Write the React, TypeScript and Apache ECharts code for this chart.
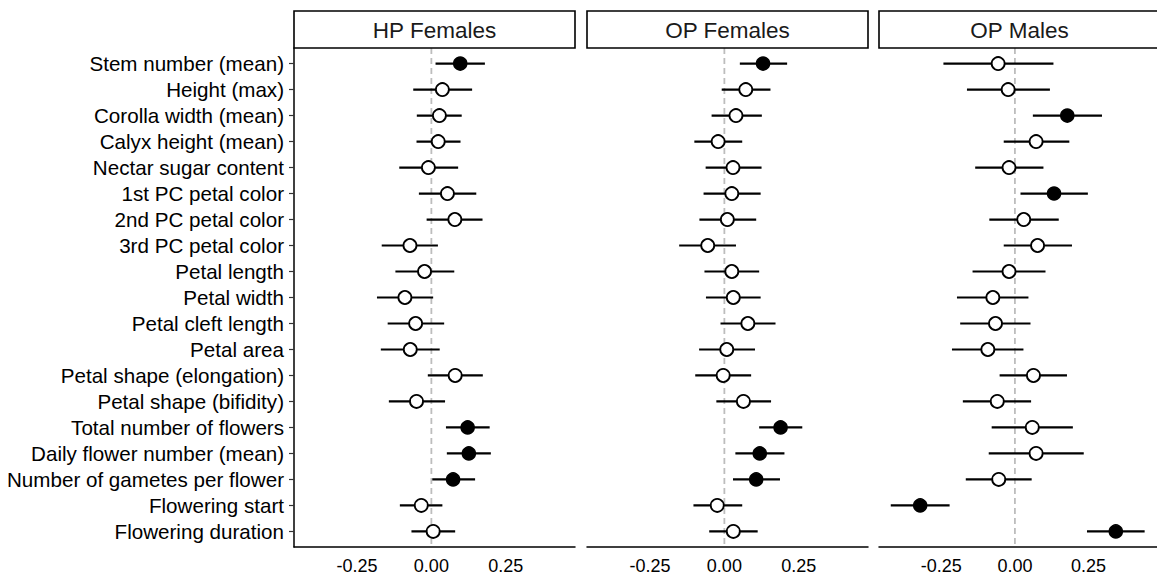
import React, { useEffect, useRef } from "react";
import * as echarts from "echarts";

const categories = [
  "Stem number (mean)",
  "Height (max)",
  "Corolla width (mean)",
  "Calyx height (mean)",
  "Nectar sugar content",
  "1st PC petal color",
  "2nd PC petal color",
  "3rd PC petal color",
  "Petal length",
  "Petal width",
  "Petal cleft length",
  "Petal area",
  "Petal shape (elongation)",
  "Petal shape (bifidity)",
  "Total number of flowers",
  "Daily flower number (mean)",
  "Number of gametes per flower",
  "Flowering start",
  "Flowering duration",
];

const panels = ["HP Females", "OP Females", "OP Males"];
const xTicks = [-0.25, 0, 0.25];

// HP Females
const hpfEst = [0.097, 0.037, 0.027, 0.023, -0.01, 0.054, 0.079, -0.072, -0.023, -0.089, -0.053, -0.071, 0.08, -0.05, 0.122, 0.126, 0.073, -0.034, 0.006];
const hpfLo = [0.014, -0.061, -0.049, -0.05, -0.108, -0.042, -0.016, -0.167, -0.121, -0.183, -0.147, -0.17, -0.012, -0.143, 0.049, 0.052, 0.003, -0.106, -0.067];
const hpfHi = [0.18, 0.137, 0.102, 0.098, 0.09, 0.151, 0.172, 0.022, 0.077, 0.006, 0.043, 0.028, 0.173, 0.046, 0.196, 0.2, 0.147, 0.037, 0.08];
const hpfSig = [1, 0, 0, 0, 0, 0, 0, 0, 0, 0, 0, 0, 0, 0, 1, 1, 1, 0, 0];

// OP Females
const opfEst = [0.13, 0.072, 0.039, -0.021, 0.029, 0.025, 0.01, -0.056, 0.025, 0.03, 0.079, 0.008, -0.004, 0.064, 0.189, 0.119, 0.107, -0.024, 0.03];
const opfLo = [0.052, -0.009, -0.043, -0.101, -0.063, -0.07, -0.084, -0.152, -0.067, -0.062, -0.013, -0.085, -0.098, -0.027, 0.117, 0.037, 0.029, -0.104, -0.051];
const opfHi = [0.211, 0.155, 0.126, 0.06, 0.125, 0.122, 0.107, 0.039, 0.117, 0.122, 0.172, 0.103, 0.09, 0.157, 0.262, 0.202, 0.187, 0.06, 0.112];
const opfSig = [1, 0, 0, 0, 0, 0, 0, 0, 0, 0, 0, 0, 0, 0, 1, 1, 1, 0, 0];

// OP Males
const opmEst = [-0.057, -0.023, 0.178, 0.072, -0.02, 0.133, 0.03, 0.077, -0.02, -0.075, -0.066, -0.092, 0.063, -0.06, 0.059, 0.072, -0.055, -0.322, 0.343];
const opmLo = [-0.243, -0.163, 0.061, -0.038, -0.135, 0.019, -0.087, -0.038, -0.144, -0.197, -0.186, -0.214, -0.052, -0.177, -0.079, -0.089, -0.167, -0.422, 0.245];
const opmHi = [0.131, 0.119, 0.296, 0.185, 0.097, 0.248, 0.149, 0.194, 0.104, 0.046, 0.053, 0.029, 0.177, 0.055, 0.197, 0.234, 0.057, -0.222, 0.441];
const opmSig = [0, 0, 1, 0, 0, 1, 0, 0, 0, 0, 0, 0, 0, 0, 0, 0, 0, 1, 1];

const panelData = [
  { est: hpfEst, lo: hpfLo, hi: hpfHi, sig: hpfSig },
  { est: opfEst, lo: opfLo, hi: opfHi, sig: opfSig },
  { est: opmEst, lo: opmLo, hi: opmHi, sig: opmSig },
];

const FONT = "Liberation Sans, Arial, Helvetica, sans-serif";
const X_MIN = -0.462;
const X_MAX = 0.483;
const Y_MIN = 0.4;
const Y_MAX = categories.length + 0.6;

export default function App() {
  const ref = useRef<HTMLDivElement>(null);

  useEffect(() => {
    if (!ref.current) return;
    const chart = echarts.init(ref.current, undefined, { renderer: "svg" });

    const gridLefts = [294, 587, 879];
    const gridWidth = 281;
    const gridTop = 48;
    const gridHeight = 500;
    const stripTop = 11;

    const yVals = categories.map((_, i) => i + 1);

    const grids = gridLefts.map((l) => ({
      left: l,
      top: gridTop,
      width: gridWidth,
      height: gridHeight,
      containLabel: false,
    }));

    const xAxes = gridLefts.map((_, i) => ({
      type: "value",
      gridIndex: i,
      min: X_MIN,
      max: X_MAX,
      splitLine: { show: false },
      axisLine: { show: true, onZero: false, lineStyle: { color: "#000", width: 1.5 } },
      axisTick: { show: false, customValues: xTicks },
      axisLabel: {
        customValues: xTicks,
        formatter: (v: number) => v.toFixed(2),
        color: "#000",
        fontSize: 18,
        fontFamily: FONT,
        margin: 10,
      },
    }));

    const yAxes = gridLefts.map((_, i) => ({
      type: "value",
      gridIndex: i,
      inverse: true,
      min: Y_MIN,
      max: Y_MAX,
      show: i === 0,
      splitLine: { show: false },
      axisLine: { show: true, onZero: false, lineStyle: { color: "#000", width: 1.5 } },
      axisTick: { show: true, length: 5, customValues: yVals, lineStyle: { color: "#333", width: 1.2 } },
      axisLabel: {
        customValues: yVals,
        formatter: (v: number) => categories[Math.round(v) - 1] ?? "",
        color: "#000",
        fontSize: 20.6,
        fontFamily: FONT,
        margin: 10,
      },
    }));

    const series: any[] = [];
    panelData.forEach((p, i) => {
      series.push({
        type: "line",
        xAxisIndex: i,
        yAxisIndex: i,
        data: [
          [0, Y_MIN],
          [0, Y_MAX],
        ],
        symbol: "none",
        lineStyle: { color: "#bdbdbd", width: 1.8, type: [6, 4] },
        z: 1,
        silent: true,
      });
      series.push({
        type: "custom",
        xAxisIndex: i,
        yAxisIndex: i,
        z: 2,
        data: p.lo.map((lo, k) => [lo, p.hi[k], k + 1]),
        renderItem: (params: any, api: any) => {
          const a = api.coord([api.value(0), api.value(2)]);
          const b = api.coord([api.value(1), api.value(2)]);
          return {
            type: "line",
            shape: { x1: a[0], y1: a[1], x2: b[0], y2: b[1] },
            style: { stroke: "#000", lineWidth: 2.2 },
          };
        },
      });
      series.push({
        type: "scatter",
        xAxisIndex: i,
        yAxisIndex: i,
        z: 3,
        symbol: "circle",
        symbolSize: 13,
        data: p.est.map((e, k) => ({
          value: [e, k + 1],
          itemStyle: p.sig[k]
            ? { color: "#000", borderColor: "#000", borderWidth: 1.5, opacity: 1 }
            : { color: "#fff", borderColor: "#000", borderWidth: 1.8, opacity: 1 },
        })),
      });
    });

    const graphic: any[] = [];
    panels.forEach((name, i) => {
      graphic.push({
        type: "rect",
        shape: { x: gridLefts[i], y: stripTop, width: gridWidth, height: gridTop - stripTop },
        style: { fill: "#fff", stroke: "#000", lineWidth: 1.6 },
        z: 10,
      });
      graphic.push({
        type: "text",
        x: gridLefts[i] + gridWidth / 2,
        y: (stripTop + gridTop) / 2 + 1,
        style: {
          text: name,
          fill: "#1a1a1a",
          fontSize: 22.5,
          fontFamily: FONT,
          align: "center",
          verticalAlign: "middle",
        },
        z: 11,
      });
    });

    chart.setOption({
      animation: false,
      backgroundColor: "#fff",
      grid: grids,
      xAxis: xAxes,
      yAxis: yAxes,
      series,
      graphic,
    });

    return () => chart.dispose();
  }, []);

  return (
    <div
      ref={ref}
      style={{ position: "absolute", left: 0, top: 0, width: 1157, height: 575 }}
    />
  );
}
